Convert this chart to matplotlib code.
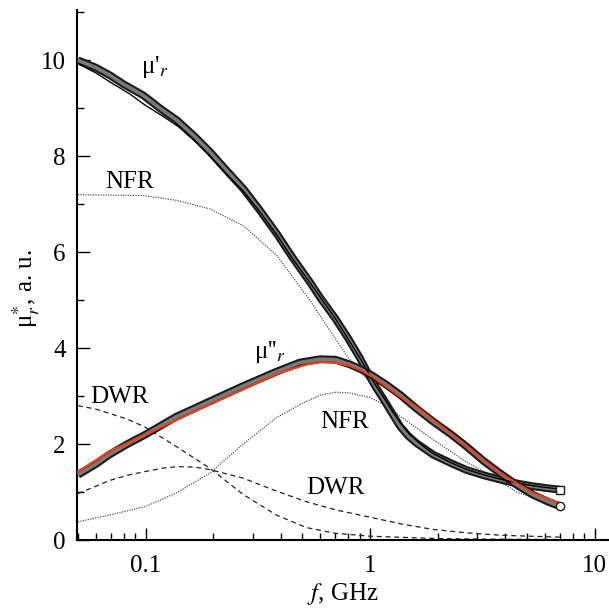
import matplotlib
matplotlib.use("Agg")
import matplotlib.pyplot as plt
from matplotlib.ticker import FixedLocator, LogLocator, NullFormatter, FixedFormatter, MultipleLocator

plt.rcParams["font.family"] = "Liberation Serif"
plt.rcParams["mathtext.fontset"] = "stix"

# measured mu' (squares)
f_mu1 = [0.05, 0.06, 0.0693, 0.08, 0.0977, 0.116, 0.138, 0.165, 0.194, 0.23, 0.273, 0.32,
         0.385, 0.45, 0.541, 0.6, 0.7, 0.8, 0.9, 0.967, 1.05, 1.15, 1.25, 1.36, 1.48, 1.61,
         1.91, 2.3, 2.69, 3.2, 3.8, 4.5, 5.33, 6.2, 7.04]
mu1 = [10.0, 9.85, 9.69, 9.5, 9.27, 9.0, 8.75, 8.42, 8.09, 7.7, 7.32, 6.9,
       6.38, 5.9, 5.37, 5.05, 4.62, 4.2, 3.8, 3.52, 3.22, 2.93, 2.65, 2.37, 2.17, 2.02,
       1.78, 1.6, 1.46, 1.35, 1.26, 1.18, 1.12, 1.08, 1.05]
# fit of mu' (black line)
f_fit1 = [0.05, 0.06, 0.07, 0.085, 0.1, 0.12, 0.14, 0.17, 0.2, 0.235, 0.273, 0.32, 0.385,
          0.45, 0.541, 0.7, 0.9, 1.05, 1.15, 1.25, 1.36, 1.5, 1.7, 1.91, 2.3, 2.69, 3.2, 3.8,
          4.5, 5.33, 6.2, 7.04]
fit1 = [9.93, 9.74, 9.54, 9.3, 9.06, 8.83, 8.62, 8.27, 7.93, 7.58, 7.27, 6.87, 6.36,
        5.88, 5.36, 4.62, 3.8, 3.25, 2.97, 2.7, 2.45, 2.2, 1.98, 1.8, 1.61, 1.47, 1.36, 1.27,
        1.19, 1.13, 1.09, 1.06]

# measured mu'' (circles)
f_mu2 = [0.05, 0.06, 0.069, 0.083, 0.1, 0.137, 0.193, 0.272, 0.383, 0.487, 0.6, 0.7,
         0.814, 0.92, 1.03, 1.18, 1.36, 1.6, 1.91, 2.3, 2.69, 3.2, 3.8, 4.5, 5.33, 6.2, 7.04]
mu2 = [1.36, 1.58, 1.78, 2.0, 2.2, 2.57, 2.89, 3.21, 3.51, 3.7, 3.77, 3.76,
       3.66, 3.55, 3.42, 3.24, 3.03, 2.75, 2.47, 2.2, 1.95, 1.65, 1.39, 1.15, 0.94, 0.8, 0.70]
# fit of mu'' (red line)
f_fit2 = [0.05, 0.06, 0.069, 0.083, 0.1, 0.137, 0.193, 0.272, 0.383, 0.52, 0.6, 0.7,
          0.814, 0.92, 1.03, 1.18, 1.36, 1.61, 3.8, 5.33, 7.04]
fit2 = [1.43, 1.66, 1.85, 2.02, 2.2, 2.5, 2.83, 3.14, 3.46, 3.66, 3.71, 3.7,
        3.63, 3.53, 3.4, 3.2, 2.99, 2.78, 1.39, 0.98, 0.76]

# NFR components (dotted)
f_nfr1 = [0.05, 0.098, 0.138, 0.194, 0.273, 0.385, 0.541, 0.6, 0.7, 0.8, 1.0, 1.2, 1.36,
          1.6, 2.0, 2.5, 3.0, 4.0, 5.0, 7.0]
nfr1 = [7.2, 7.18, 7.08, 6.9, 6.55, 5.93, 4.99, 4.67, 4.2, 3.8, 3.28, 2.75, 2.33,
        2.0, 1.72, 1.48, 1.34, 1.17, 1.07, 0.98]
f_nfr2 = [0.05, 0.069, 0.1, 0.137, 0.193, 0.272, 0.383, 0.5, 0.6, 0.7, 0.8, 1.0, 1.2, 1.36,
          1.9, 2.7, 3.33, 4.5, 7.0]
nfr2 = [0.38, 0.52, 0.70, 0.98, 1.39, 2.0, 2.55, 2.85, 3.02, 3.08, 3.07, 2.97, 2.78, 2.58,
        2.1, 1.62, 1.39, 1.0, 0.68]

# DWR components (dashed)
f_dwr1 = [0.05, 0.06, 0.069, 0.083, 0.1, 0.137, 0.193, 0.272, 0.383, 0.52, 0.7, 1.0, 2.0, 4.0, 7.0]
dwr1 = [2.8, 2.73, 2.64, 2.52, 2.35, 1.95, 1.5, 0.95, 0.52, 0.26, 0.14, 0.08, 0.03, 0.015, 0.01]
f_dwr2 = [0.05, 0.06, 0.069, 0.083, 0.1, 0.12, 0.14, 0.165, 0.193, 0.272, 0.383, 0.52,
          0.7, 0.967, 1.4, 1.91, 2.7, 3.8, 7.0]
dwr2 = [0.97, 1.12, 1.24, 1.35, 1.43, 1.5, 1.53, 1.52, 1.47, 1.29, 1.02, 0.8,
        0.63, 0.49, 0.33, 0.22, 0.15, 0.1, 0.06]

fig = plt.figure(figsize=(6.09, 6.08), dpi=100)
ax = fig.add_axes([0.1264, 0.1118, 0.8736, 0.8718])
ax.set_xscale("log")

# component curves
ax.plot(f_nfr1, nfr1, color="#555555", lw=0.9, ls=(0, (1, 1)))
ax.plot(f_nfr2, nfr2, color="#555555", lw=0.9, ls=(0, (1, 1)))
ax.plot(f_dwr1, dwr1, color="#222222", lw=0.9, ls=(0, (4, 3)))
ax.plot(f_dwr2, dwr2, color="#222222", lw=0.9, ls=(0, (4, 3)))

# measured bands (dense markers drawn as a thick dark band)
for fx, vals in [(f_mu1, mu1), (f_mu2, mu2)]:
    ax.plot(fx, vals, color="#1a1a1a", lw=5.6, solid_capstyle="butt",
            solid_joinstyle="round", zorder=3)
    ax.plot(fx, vals, color="#7a7a7a", lw=2.6, solid_capstyle="butt",
            solid_joinstyle="round", zorder=3)
ax.plot(f_mu1[-1], mu1[-1], marker="s", ms=6, mfc="white", mec="#1a1a1a", mew=1, zorder=5)
ax.plot(f_mu2[-1], mu2[-1], marker="o", ms=6, mfc="white", mec="#1a1a1a", mew=1, zorder=5)

# fits
ax.plot(f_fit1, fit1, color="black", lw=1.0, zorder=4)
ax.plot(f_fit2, fit2, color="#e8401c", lw=1.6, zorder=4)

# labels
fs = 18
ax.text(0.1097, 9.87, "μ'$_r$", fontsize=fs, ha="center", va="center")
ax.text(0.357, 3.93, "μ''$_r$", fontsize=fs, ha="center", va="center")
ax.text(0.0848, 7.47, "NFR", fontsize=fs, ha="center", va="center")
ax.text(0.773, 2.47, "NFR", fontsize=fs, ha="center", va="center")
ax.text(0.0765, 2.99, "DWR", fontsize=fs, ha="center", va="center")
ax.text(0.70, 1.09, "DWR", fontsize=fs, ha="center", va="center")

ax.set_xlim(0.0495, 11.6)
ax.set_ylim(0, 11.05)

ax.xaxis.set_major_locator(FixedLocator([0.1, 1, 10]))
ax.xaxis.set_major_formatter(FixedFormatter(["0.1", "1", "10"]))
ax.xaxis.set_minor_locator(LogLocator(base=10, subs=range(2, 10)))
ax.xaxis.set_minor_formatter(NullFormatter())
ax.yaxis.set_major_locator(MultipleLocator(2))
ax.yaxis.set_minor_locator(MultipleLocator(1))

ax.tick_params(which="both", direction="in", labelsize=fs, width=1.0)
ax.tick_params(which="major", length=9, pad=8)
ax.tick_params(axis="x", which="major", pad=11)
ax.tick_params(which="minor", length=5)
for s in ["top", "right"]:
    ax.spines[s].set_visible(False)
for s in ["left", "bottom"]:
    ax.spines[s].set_linewidth(1.5)

ax.set_xlabel("$f$, GHz", fontsize=fs, labelpad=3)
ax.set_ylabel("μ$^{*}_{r}$, a. u.", fontsize=fs)
ax.yaxis.set_label_coords(-0.065, 0.475)

fig.savefig("out.png", dpi=100)
